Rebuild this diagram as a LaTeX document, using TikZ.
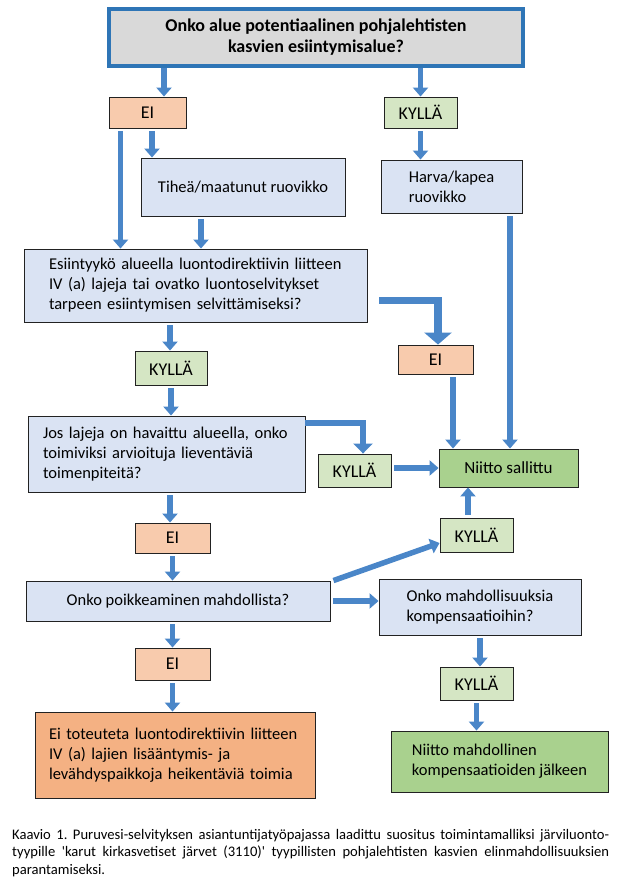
\documentclass[tikz,border=0pt]{standalone}
\usepackage{fontspec}
\setmainfont{Carlito}
\usepackage{xcolor}
\definecolor{cflow}{HTML}{4A86C8}
\definecolor{cframe}{HTML}{2E75B6}
\definecolor{cgrey}{HTML}{D9D9D9}
\definecolor{cask}{HTML}{DAE3F3}
\definecolor{cno}{HTML}{F8CBAD}
\definecolor{cnobig}{HTML}{F4B183}
\definecolor{cyes}{HTML}{D5E6C4}
\definecolor{cok}{HTML}{A9D18E}
\definecolor{cline}{HTML}{222222}
\usepackage{tikz}
\usetikzlibrary{arrows.meta}

\begin{document}
\begin{tikzpicture}[x=1pt, y=-1pt, font=\fontsize{16.5}{20}\selectfont,
  box/.style={draw=cline, line width=0.9pt, inner sep=0pt, align=left},
  ask/.style={box, fill=cask},
  no/.style={box, fill=cno, minimum width=75pt, minimum height=30pt, font=\fontsize{18}{20}\selectfont},
  yes/.style={box, fill=cyes, minimum width=73pt, minimum height=33pt, font=\fontsize{18}{20}\selectfont},
  flow/.style={draw=cflow, line width=5.5pt, -{Triangle[width=15pt,length=9pt]}},
  flowmid/.style={flow, line width=6pt, -{Triangle[width=19pt,length=10pt]}},
  flowbig/.style={flow, line width=7.5pt, -{Triangle[width=27pt,length=12pt]}}]
  \useasboundingbox (0,0) rectangle (617,885);
  \node[box, fill=cgrey, draw=cframe, line width=3.5pt, minimum width=414pt, minimum height=57pt, align=center, font=\fontsize{18}{21}\selectfont\bfseries] (top) at (316,37.5) {Onko alue potentiaalinen pohjalehtisten\\kasvien esiintymisalue?};
  \node[no, minimum width=77pt, minimum height=31pt] (ei1) at (147.5,112.5) {EI};
  \node[yes, minimum height=31pt] (ky1) at (420.5,112.5) {KYLLÄ};
  \node[ask, minimum width=204pt, minimum height=58pt] (tih) at (243,187) {Tiheä/maatunut ruovikko};
  \node[ask, minimum width=141pt, minimum height=53pt] (har) at (451.5,186.5) {Harva/kapea\\ruovikko};
  \node[ask, text width=293pt, minimum width=343pt, minimum height=73pt] (esi) at (195.5,285.5) {Esiintyykö alueella luontodirektiivin liitteen\\IV (a) lajeja tai ovatko luontoselvitykset\\tarpeen esiintymisen selvittämiseksi?};
  \node[no, minimum height=29pt] (ei2) at (435.5,359.5) {EI};
  \node[yes, minimum width=72pt, minimum height=34pt] (ky2) at (171,368) {KYLLÄ};
  \node[ask, text width=247pt, minimum width=277pt, minimum height=76pt] (jos) at (166.5,454) {Jos lajeja on havaittu alueella, onko\\toimiviksi arvioituja lieventäviä\\toimenpiteitä?};
  \node[yes] (ky3) at (354.5,470.5) {KYLLÄ};
  \node[box, fill=cok, minimum width=139pt, minimum height=38pt, font=\fontsize{17}{20}\selectfont] (nis) at (508.5,468) {Niitto sallittu};
  \node[no] (ei3) at (172.5,538) {EI};
  \node[yes, minimum height=34pt] (ky4) at (476.5,535) {KYLLÄ};
  \node[ask, minimum width=304pt, minimum height=40pt] (poi) at (178,601) {Onko poikkeaminen mahdollista?};
  \node[ask, minimum width=202pt, minimum height=56pt] (mah) at (480,607) {Onko mahdollisuuksia\\kompensaatioihin?};
  \node[no, minimum height=32pt] (ei4) at (172.5,664) {EI};
  \node[yes] (ky5) at (476.5,683.5) {KYLLÄ};
  \node[box, fill=cnobig, text width=252pt, minimum width=280pt, minimum height=86pt] (eit) at (175,755) {Ei toteuteta luontodirektiivin liitteen\\IV (a) lajien lisääntymis- ja\\levähdyspaikkoja heikentäviä toimia};
  \node[box, fill=cok, minimum width=217pt, minimum height=61pt] (nmk) at (499.5,761.5) {Niitto mahdollinen\\kompensaatioiden jälkeen};
  \node[anchor=north west, inner sep=0pt, align=left, font=\fontsize{14.6}{17.5}\selectfont\frenchspacing] (cap) at (12,829) {\makebox[597pt][s]{Kaavio 1. Puruvesi-selvityksen asiantuntijatyöpajassa laadittu suositus toimintamalliksi järviluonto-}\\\makebox[597pt][s]{tyypille \textquotesingle karut kirkasvetiset järvet (3110)\textquotesingle{} tyypillisten pohjalehtisten kasvien elinmahdollisuuksien}\\parantamiseksi.};
  \draw[flow] ([xshift=16.5pt]ei1.north |- top.south) -- ([xshift=16.5pt]ei1.north);
  \draw[flow] (ky1.north |- top.south) -- (ky1.north);
  \draw[flow] ([xshift=4.5pt,yshift=-3pt]ei1.south) -- ([xshift=4.5pt]ei1.south |- tih.north);
  \draw[flow] ([xshift=-27pt,yshift=-3pt]ei1.south) -- ([xshift=-27pt]ei1.south |- esi.north);
  \draw[flow] ([xshift=-42pt,yshift=-3pt]tih.south) -- ([xshift=-42pt]tih.south |- esi.north);
  \draw[flow] ([xshift=58.5pt,yshift=-3pt]har.south) -- ([xshift=58.5pt]har.south |- nis.north);
  \draw[flow] ([xshift=-25.5pt,yshift=-3pt]esi.south) -- ([xshift=-25.5pt]esi.south |- ky2.north);
  \draw[flowbig] ([xshift=12pt,yshift=-15pt]esi.east) -| ([xshift=2.5pt]ei2.north);
  \draw[flow] ([xshift=17.5pt,yshift=-3pt]ei2.south) -- ([xshift=17.5pt]ei2.south |- nis.north);
  \draw[flowmid] ([yshift=-7pt]jos.north east) -| ([xshift=8.5pt]ky3.north);
  \draw[flow] ([xshift=3pt]ky3.east |- nis.west) -- (nis.west);
  \draw[flow] ([xshift=3.5pt,yshift=-3pt]jos.south) -- ([xshift=3.5pt]jos.south |- ei3.north);
  \draw[flow] ([xshift=-8.5pt,yshift=3pt]ky4.north) -- ([xshift=-8.5pt]ky4.north |- nis.south);
  \draw[flow] ([xshift=3pt]poi.north east) -- ([yshift=-8pt]ky4.west);
  \draw[flow] ([xshift=3pt]poi.east) -- (mah.west |- poi.east);
  \draw[flow] ([yshift=-3pt]ei4.north |- poi.south) -- (ei4.north);
  \foreach \a/\b in {ky1/har, ky2/jos, ei3/poi, mah/ky5, ky5/nmk, ei4/eit}
    {\draw[flow] ([yshift=-3pt]\a.south) -- (\a.south |- \b.north);}
\end{tikzpicture}
\end{document}
